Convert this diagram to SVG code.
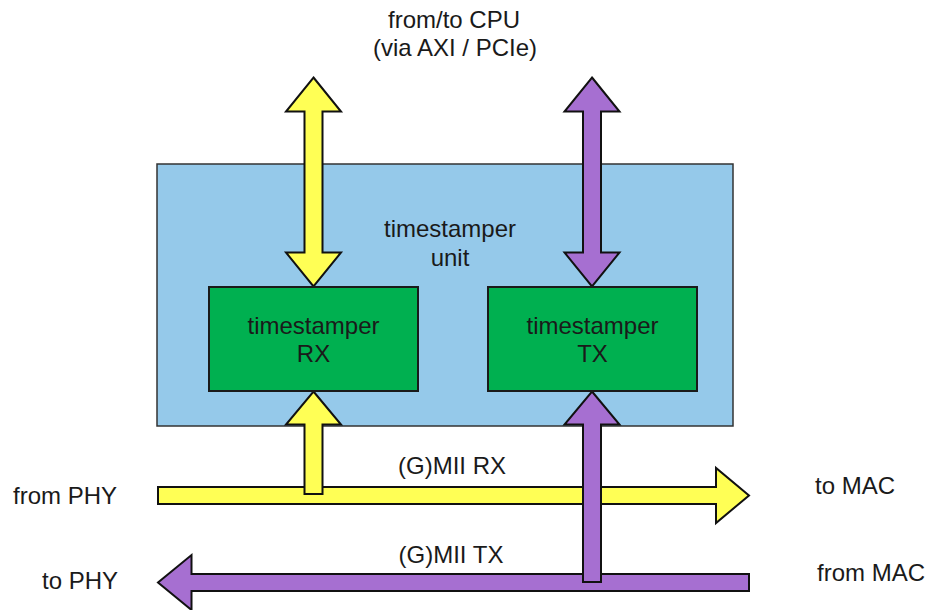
<svg xmlns="http://www.w3.org/2000/svg" width="935" height="610" viewBox="0 0 935 610">
<style>
text{font-family:"Liberation Sans",Arial,sans-serif;font-size:24px;fill:#1a1a1a}
.c{text-anchor:middle}
.unit{fill:#95c9ea;stroke:#333;stroke-width:1.5}
.blk{fill:#00b050;stroke:#1a1a1a;stroke-width:2}
.y{fill:#ffff55;stroke:#111;stroke-width:2;stroke-linejoin:miter}
.p{fill:#a66fd1;stroke:#111;stroke-width:2;stroke-linejoin:miter}
</style>
<rect width="935" height="610" fill="#fff"/>
<g id="unit">
<rect class="unit" x="157" y="164" width="576" height="262"/>
<text class="c" x="450" y="237">timestamper</text>
<text class="c" x="450" y="266">unit</text>
</g>
<g id="connectors">
<path class="y" d="M158,487 L716,487 L716,468 L749,495.5 L716,523 L716,504 L158,504 Z"/>
<path class="y" d="M313.5,391.5 L341,424.5 L322.5,424.5 L322.5,494 L304.5,494 L304.5,424.5 L286,424.5 Z"/>
<path class="p" d="M749,574 L191.5,574 L191.5,555 L158,582.5 L191.5,610 L191.5,591 L749,591 Z"/>
<path class="p" d="M592,391.5 L619.5,424.5 L601,424.5 L601,582 L583,582 L583,424.5 L564.5,424.5 Z"/>
<path class="y" d="M313.5,77.5 L341,111.5 L322.5,111.5 L322.5,252.5 L341,252.5 L313.5,286.5 L286,252.5 L304.5,252.5 L304.5,111.5 L286,111.5 Z"/>
<path class="p" d="M592,77.5 L619.5,111.5 L601,111.5 L601,252.5 L619.5,252.5 L592,286.5 L564.5,252.5 L583,252.5 L583,111.5 L564.5,111.5 Z"/>
</g>
<g id="rx">
<rect class="blk" x="209" y="287" width="209" height="104"/>
<text class="c" x="313.5" y="334">timestamper</text>
<text class="c" x="313.5" y="362">RX</text>
</g>
<g id="tx">
<rect class="blk" x="488" y="287" width="209" height="104"/>
<text class="c" x="592.5" y="334">timestamper</text>
<text class="c" x="592.5" y="362">TX</text>
</g>
<g id="cpu">
<text class="c" x="454" y="28">from/to CPU</text>
<text class="c" x="455" y="56">(via AXI / PCIe)</text>
</g>
<g id="labels">
<text class="c" x="452" y="474">(G)MII RX</text>
<text class="c" x="451" y="563">(G)MII TX</text>
<text x="13" y="504">from PHY</text>
<text x="815" y="494">to MAC</text>
<text x="42" y="589">to PHY</text>
<text x="817" y="581">from MAC</text>
</g>
</svg>
